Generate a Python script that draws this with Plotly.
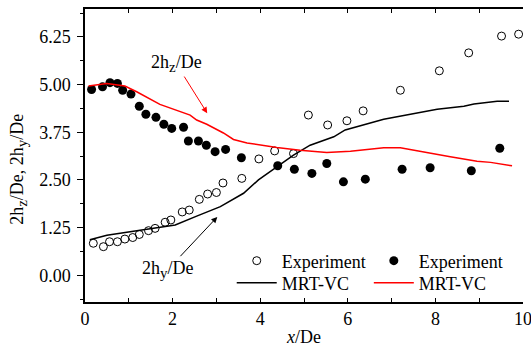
import plotly.graph_objects as go

# ---- data ----
hz_exp_x = [0.15, 0.40, 0.57, 0.74, 0.86, 1.05, 1.24, 1.39, 1.62, 1.80, 1.98, 2.25, 2.36, 2.59,
            2.77, 2.97, 3.21, 3.57, 4.40, 4.78, 5.18, 5.52, 5.90, 6.40, 7.24, 7.88, 8.82, 9.47]
hz_exp_y = [4.87, 4.94, 5.05, 5.03, 4.85, 4.75, 4.43, 4.22, 4.14, 3.96, 3.85, 3.88, 3.52, 3.52,
            3.41, 3.24, 3.30, 3.08, 2.87, 2.78, 2.67, 2.93, 2.45, 2.52, 2.78, 2.82, 2.74, 3.33]

hy_exp_x = [0.19, 0.42, 0.56, 0.74, 0.91, 1.09, 1.24, 1.45, 1.60, 1.83, 1.96, 2.22, 2.38, 2.61,
            2.80, 3.00, 3.15, 3.58, 3.97, 4.33, 4.76, 5.10, 5.54, 5.98, 6.35, 7.20, 8.09, 8.76,
            9.51, 9.90]
hy_exp_y = [0.84, 0.75, 0.88, 0.88, 0.95, 0.99, 1.07, 1.17, 1.23, 1.39, 1.45, 1.66, 1.71, 1.99,
            2.13, 2.17, 2.42, 2.54, 3.05, 3.26, 3.19, 4.20, 3.94, 4.05, 4.31, 4.85, 5.36, 5.83,
            6.27, 6.32]

hy_mrt_x = [0.11, 0.50, 1.03, 1.41, 2.06, 2.55, 3.09, 3.62, 3.96, 4.38, 4.76, 5.14, 5.68, 5.94,
            6.82, 7.43, 8.04, 8.65, 8.88, 9.41, 9.68]
hy_mrt_y = [0.93, 1.05, 1.14, 1.20, 1.32, 1.55, 1.80, 2.15, 2.50, 2.84, 3.15, 3.41, 3.63, 3.81,
            4.09, 4.22, 4.35, 4.43, 4.49, 4.56, 4.56]

hz_mrt_x = [0.08, 0.50, 0.91, 1.18, 1.71, 2.10, 2.40, 2.55, 2.78, 3.16, 3.39, 3.70, 4.00, 4.38,
            4.91, 5.52, 6.06, 6.82, 7.20, 7.81, 8.34, 8.95, 9.26, 9.75]
hz_mrt_y = [4.96, 5.03, 4.96, 4.81, 4.48, 4.33, 4.20, 4.07, 3.96, 3.73, 3.56, 3.47, 3.41, 3.35,
            3.28, 3.22, 3.25, 3.34, 3.34, 3.21, 3.11, 2.99, 2.96, 2.87]

x_tick_vals = [0, 2, 4, 6, 8, 10]
x_tick_text = ["0", "2", "4", "6", "8", "10"]
y_tick_vals = [0.00, 1.25, 2.50, 3.75, 5.00, 6.25]
y_tick_text = ["0.00", "1.25", "2.50", "3.75", "5.00", "6.25"]

series_names = ["Experiment", "Experiment", "MRT-VC", "MRT-VC"]

FONT = "Liberation Serif, Times New Roman, serif"
FS = 18
SUB = "<sub><span style='font-size:15px'>{}</span></sub>"

fig = go.Figure()
fig.add_trace(go.Scatter(x=hy_exp_x, y=hy_exp_y, mode="markers", name=series_names[0],
                         marker=dict(symbol="circle-open", size=8, color="black",
                                     line=dict(width=1, color="black")),
                         legend="legend"))
fig.add_trace(go.Scatter(x=hz_exp_x, y=hz_exp_y, mode="markers", name=series_names[1],
                         marker=dict(symbol="circle", size=9, color="black"),
                         legend="legend2"))
fig.add_trace(go.Scatter(x=hy_mrt_x, y=hy_mrt_y, mode="lines", name=series_names[2],
                         line=dict(color="black", width=1.5), legend="legend3"))
fig.add_trace(go.Scatter(x=hz_mrt_x, y=hz_mrt_y, mode="lines", name=series_names[3],
                         line=dict(color="#ff0000", width=1.5), legend="legend4"))

yr = [-0.70, 6.98]

legend_common = dict(bgcolor="rgba(0,0,0,0)", borderwidth=0, font=dict(family=FONT, size=FS, color="black"),
                     xanchor="left", yanchor="middle", itemwidth=40, tracegroupgap=0)

fig.update_layout(
    width=531, height=347,
    margin=dict(l=85, r=8, t=9, b=45, autoexpand=False),
    paper_bgcolor="white", plot_bgcolor="white",
    font=dict(family=FONT, size=FS, color="black"),
    showlegend=True,
    legend=dict(x=0.335, y=0.140, **legend_common),
    legend2=dict(x=0.648, y=0.140, **legend_common),
    legend3=dict(x=0.335, y=0.065, **legend_common),
    legend4=dict(x=0.648, y=0.065, **legend_common),
    xaxis=dict(range=[0, 10], tickmode="array", tickvals=x_tick_vals, ticktext=x_tick_text,
               ticks="inside", ticklen=4, tickwidth=1, tickcolor="black",
               minor=dict(dtick=1, ticks="inside", ticklen=4, tickcolor="black", tickwidth=1),
               showline=True, linecolor="black", linewidth=1.5, mirror="ticks",
               showgrid=False, zeroline=False, automargin=False, ticklabeloverflow="allow",
               tickfont=dict(family=FONT, size=FS, color="black"),
               title=dict(text="<i>x</i>/De", font=dict(family=FONT, size=FS, color="black"), standoff=4)),
    yaxis=dict(range=yr, tickmode="array", tickvals=y_tick_vals, ticktext=y_tick_text,
               ticks="outside", ticklen=6, tickwidth=1, tickcolor="black",
               minor=dict(dtick=0.625, tick0=0, ticks="outside", ticklen=3, tickcolor="black", tickwidth=1),
               showline=True, linecolor="black", linewidth=1.5, automargin=False,
               showgrid=False, zeroline=False, ticklabelstandoff=3,
               tickfont=dict(family=FONT, size=FS, color="black")),
    yaxis2=dict(range=yr, overlaying="y", side="right", matches="y",
                tickmode="linear", tick0=0, dtick=0.625, ticks="inside", ticklen=3,
                tickcolor="black", tickwidth=1, showticklabels=False, automargin=False,
                showline=True, linecolor="black", linewidth=1.5,
                showgrid=False, zeroline=False),
)

# y-axis title (placed to match the reference's off-centre position)
fig.add_annotation(xref="paper", yref="paper", x=-0.151, y=0.454, xanchor="center", yanchor="middle",
                   text="2h" + SUB.format("z") + "/De, 2h" + SUB.format("y") + "/De",
                   textangle=-90, showarrow=False,
                   font=dict(family=FONT, size=FS, color="black"))

fig.add_annotation(x=2.79, y=4.25, ax=2.08, ay=5.55, axref="x", ayref="y", xref="x", yref="y",
                   text="2h" + SUB.format("z") + "/De", showarrow=True, arrowhead=2, arrowsize=1.2,
                   arrowwidth=1, arrowcolor="#ff0000",
                   font=dict(family=FONT, size=FS, color="black"))
fig.add_annotation(x=3.02, y=1.53, ax=1.90, ay=0.16, axref="x", ayref="y", xref="x", yref="y",
                   text="2h" + SUB.format("y") + "/De", showarrow=True, arrowhead=2, arrowsize=1.2,
                   arrowwidth=1, arrowcolor="black",
                   font=dict(family=FONT, size=FS, color="black"))

fig.write_html("out.html")
